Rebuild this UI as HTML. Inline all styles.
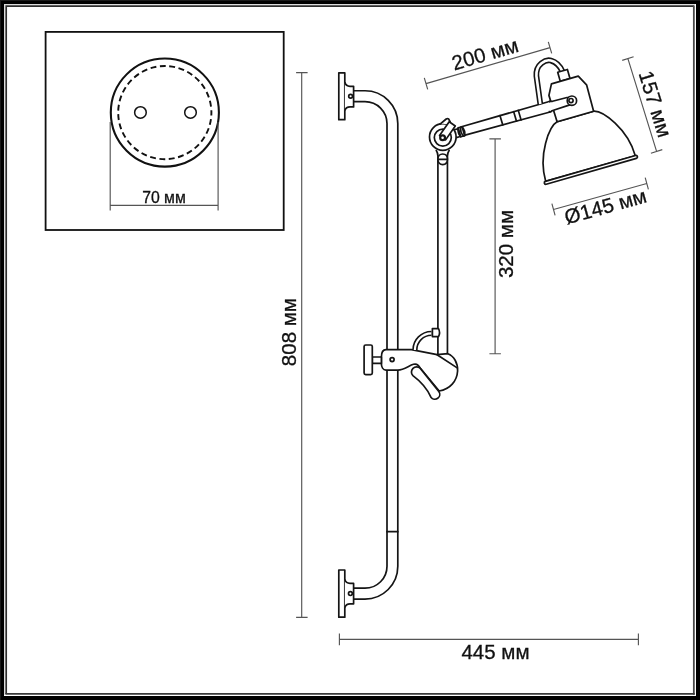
<!DOCTYPE html>
<html><head><meta charset="utf-8"><style>
html,body{margin:0;padding:0;background:#fff;width:700px;height:700px;overflow:hidden}
svg{display:block;will-change:transform}
text{font-family:"Liberation Sans",sans-serif;fill:#111;stroke:#111;stroke-width:0.3}
.l{fill:none;stroke:#151515;stroke-width:1.7;stroke-linejoin:round;stroke-linecap:round}
.w{fill:#fff;stroke:#151515;stroke-width:1.7;stroke-linejoin:round}
.d{fill:none;stroke:#555;stroke-width:1.15}
.t{font-size:20.5px}
</style></head><body>
<svg width="700" height="700" viewBox="0 0 700 700">
<!-- frame -->
<rect x="0" y="0" width="700" height="700" fill="#000"/>
<path d="M0,0.5 H700 M0.5,0 V700" stroke="#1a1a1a" stroke-width="1"/>
<rect x="4" y="4" width="692" height="692" fill="#fff"/>
<path d="M4,4.6 H695 M4.6,4 V695" stroke="#dcdcdc" stroke-width="1.2"/>
<path d="M5.4,6.2 H693.9 M6.2,5.4 V693.9" stroke="#2e2e2e" stroke-width="1.7"/>
<path d="M693.85,5.4 V694.7" stroke="#4a4a4a" stroke-width="1.8"/>
<path d="M5.4,693.85 H694.7" stroke="#3a3a3a" stroke-width="1.6"/>

<!-- inset box -->
<rect x="45.6" y="31.9" width="238.1" height="198.1" fill="none" stroke="#111" stroke-width="1.8"/>
<circle cx="164.85" cy="112.6" r="54.05" fill="none" stroke="#111" stroke-width="2.1"/>
<circle cx="164.8" cy="112.6" r="46.6" fill="none" stroke="#111" stroke-width="1.9" stroke-dasharray="5.9 3.545" stroke-dashoffset="2.95"/>
<circle cx="140.45" cy="112.45" r="5.8" fill="none" stroke="#111" stroke-width="1.5"/>
<circle cx="190.5" cy="112.45" r="5.8" fill="none" stroke="#111" stroke-width="1.5"/>
<path class="d" d="M110.2,122 V210.6 M218.1,122 V210.6 M110.2,205.3 H218.1" stroke-width="0.9"/>
<text x="164" y="202.5" text-anchor="middle" style="font-size:15.8px">70 мм</text>

<!-- dimension lines -->
<path class="d" d="M301.7,72.6 V617.4 M296.1,72.6 H307.6 M296.1,617.4 H307.6"/>
<text class="t" text-anchor="middle" transform="translate(296.4,332.1) rotate(-90)">808 мм</text>
<path class="d" d="M339.4,639.35 H638.4 M339.4,633.5 V645.2 M638.4,633.5 V645.2"/>
<text class="t" x="495.5" y="658.5" text-anchor="middle">445 мм</text>
<path class="d" d="M495.1,138.9 V353.7 M489.4,138.9 H500.9 M489.4,353.7 H500.9"/>
<text class="t" text-anchor="middle" transform="translate(498.2,244) rotate(-90) translate(0,14.5)">320 мм</text>
<path class="d" d="M426,83.6 L550,47.6 M424.3,77.8 L427.7,89.4 M548.3,41.8 L551.7,53.4"/>
<text class="t" text-anchor="middle" transform="translate(485,54) rotate(-16.2) translate(0,7.2)">200 мм</text>
<path class="d" d="M627.9,58.6 L656.6,151.4 M622.2,60.4 L633.6,56.8 M650.9,153.2 L662.3,149.6"/>
<text class="t" text-anchor="middle" transform="translate(655.4,104) rotate(72.8) translate(0,7.2)">157 мм</text>
<path class="d" d="M553.5,209.5 L646.8,183.5 M551.9,203.7 L555.1,215.3 M645.2,177.7 L648.4,189.3"/>
<text class="t" text-anchor="middle" transform="translate(605.4,206.3) rotate(-15.6) translate(0,7.2)">Ø145 мм</text>

<!-- LAMP -->
<!-- main tube -->
<path class="l" d="M354.2,90.75 H365 A32.8,32.8 0 0 1 397.8,123.55 V566.3 A32.8,32.8 0 0 1 365,599.1 H354.2"/>
<path class="l" d="M354.2,101.6 H365 A22,22 0 0 1 387,123.6 V566.2 A22,22 0 0 1 365,588.2 H354.2"/>
<path class="l" d="M387,531.7 H397.8" stroke-width="2"/>
<!-- top bracket -->
<rect class="w" x="338.8" y="72.8" width="6" height="46.9"/>
<path class="w" d="M344.8,82.3 Q346,86.3 350,86.3 H353.6 V106.9 H350 Q346,106.9 344.8,110.5"/>
<circle class="l" cx="350.6" cy="96.3" r="1.9" stroke-width="1.2"/>
<!-- bottom bracket -->
<rect class="w" x="338.8" y="570" width="6" height="47.2"/>
<path class="w" d="M344.8,579.6 Q346,583.4 350,583.4 H353.6 V603.8 H350 Q346,603.8 344.8,607.6"/>
<circle class="l" cx="350.4" cy="593.6" r="1.9" stroke-width="1.2"/>

<!-- vertical arm -->
<path class="l" d="M436.3,150.5 Q437.9,153 437.9,156 V354.5"/>
<path class="l" d="M449.1,150.5 Q447.45,153 447.45,156 V354"/>
<path class="w" d="M437.9,159.3 C437.9,156 440,154 442.7,154 C445.4,154 447.45,156 447.45,159.3 C447.45,162.6 445.4,164.6 442.7,164.6 C440,164.6 437.9,162.6 437.9,159.3 Z M437.9,159.3 H447.45"/>

<!-- horizontal arm -->
<path class="w" d="M461.5,126.7 L551,100.97 L551,111.77 L461.5,136.15 Z"/>
<path class="l" d="M500,115.64 L502.8,124.9 M513.7,111.7 L516.5,121.17 M518.3,110.38 L521.1,119.91"/>
<g transform="translate(442.7,137.2) rotate(-16.17)">
  <path class="w" d="M12,-3.9 H17 V4.2 H12 Z"/>
  <path class="w" d="M17.5,-4.6 H21.5 V4.6 H17.5 Z"/>
  <path class="l" d="M17.5,-4.6 Q15.2,0 17.5,4.6 M20.2,-4.6 Q17.9,0 20.2,4.6 M21.5,-4.6 Q23.8,0 21.5,4.6"/>
</g>
<!-- knee joint -->
<circle class="w" cx="442.8" cy="137" r="13.3"/>
<circle class="l" cx="442.8" cy="137.6" r="8.5"/>
<path d="M440.1,124.2 L446.2,119 Q447.5,118.1 448.6,118.9 L450.2,122 L449.6,125.6 A13.3,13.3 0 0 0 440.1,124.2 Z" fill="#fff"/>
<path class="l" d="M440.1,124.2 L446.2,119 Q447.5,118.1 448.6,118.9 L450.2,122"/>
<g transform="translate(442.6,137.7) rotate(-55)">
  <path class="w" d="M0,-3.7 H16.8 V3.7 H0 Z"/>
</g>
<circle cx="442.6" cy="137.7" r="3.5" fill="#151515"/>
<circle cx="442.6" cy="137.7" r="1.3" fill="#fff"/>

<!-- cable -->
<path d="M540.3,104 L536.4,76 C535.5,64 546,59 551,60.6 C556,62 560,66 562.5,71.5" fill="none" stroke="#151515" stroke-width="5.8"/>
<path d="M540.3,104 L536.4,76 C535.5,64 546,59 551,60.6 C556,62 560,66 562.5,71.5" fill="none" stroke="#fff" stroke-width="2.6"/>
<g transform="translate(590.5,168.55) rotate(-16)">
  <path class="w" d="M-5,-101.6 H5.1 V-92.2 H-5 Z"/>
  <path class="w" d="M-18.9,-54.25 C-28,-52 -46.6,-28 -46.6,0 L46.6,0 C46.6,-28 28,-52 18.9,-54.25 Z"/>
  <rect class="w" x="-48.4" y="-0.1" width="96.8" height="3" rx="1.5"/>
  <path class="w" d="M-14.2,-92.2 L13.7,-92.2 L19.3,-81.6 L18.8,-54.25 L-19.2,-54.25 L-19.8,-81.8 Z"/>
</g>
<!-- arm end -->
<path class="w" d="M549.5,101.4 L552.5,101.3 L567,97.5 L570,97.5 L570,105 L568.3,105.4 L553.5,110.3 L549.5,111.9 Z"/>
<path d="M549.5,102.6 V110.8" stroke="#fff" stroke-width="3"/>
<circle class="w" cx="571.9" cy="100.7" r="4.7"/>
<circle class="l" cx="571" cy="100.6" r="2.1" stroke-width="1.5"/>

<!-- clamp -->
<path class="w" d="M381.4,357 C381.4,352 383,349.6 386,349.6 L411.4,349.6 L437.1,354.7 L447.8,353.7 C454,356 458,363 457.6,371 C457,381 450,389.5 439.2,391 L420.3,368.4 C419,365.5 416.5,363.5 413.5,364.3 C409,365.5 404,370 398,370.1 L386,370.1 C383,370 381.4,367 381.4,363.7 Z"/>
<path class="l" d="M437.1,354.7 L456.8,367.6"/>
<circle class="l" cx="392.1" cy="359.6" r="2" stroke-width="1.5"/>
<rect class="w" x="372.3" y="357" width="9.1" height="6.4"/>
<rect class="w" x="364.1" y="345" width="8.2" height="29.7" rx="1.6"/>
<!-- lever -->
<path class="w" d="M420.3,368.4 L438.8,391.4 A4.9,4.9 0 0 1 430.9,397.2 C427.8,390 421.5,382 412.9,375.6 A5.15,5.15 0 0 1 420.3,368.4 Z"/>
<!-- hook -->
<path d="M414.9,350 A16.6,16.6 0 0 1 431.5,333.4" fill="none" stroke="#151515" stroke-width="5.4"/>
<path d="M414.9,350 A16.6,16.6 0 0 1 431.5,333.4" fill="none" stroke="#fff" stroke-width="2.2"/>
<path class="w" d="M432.4,328.6 H438.5 Q440.6,332.6 438.5,336.6 H432.4 Z"/>
</svg>
</body></html>
